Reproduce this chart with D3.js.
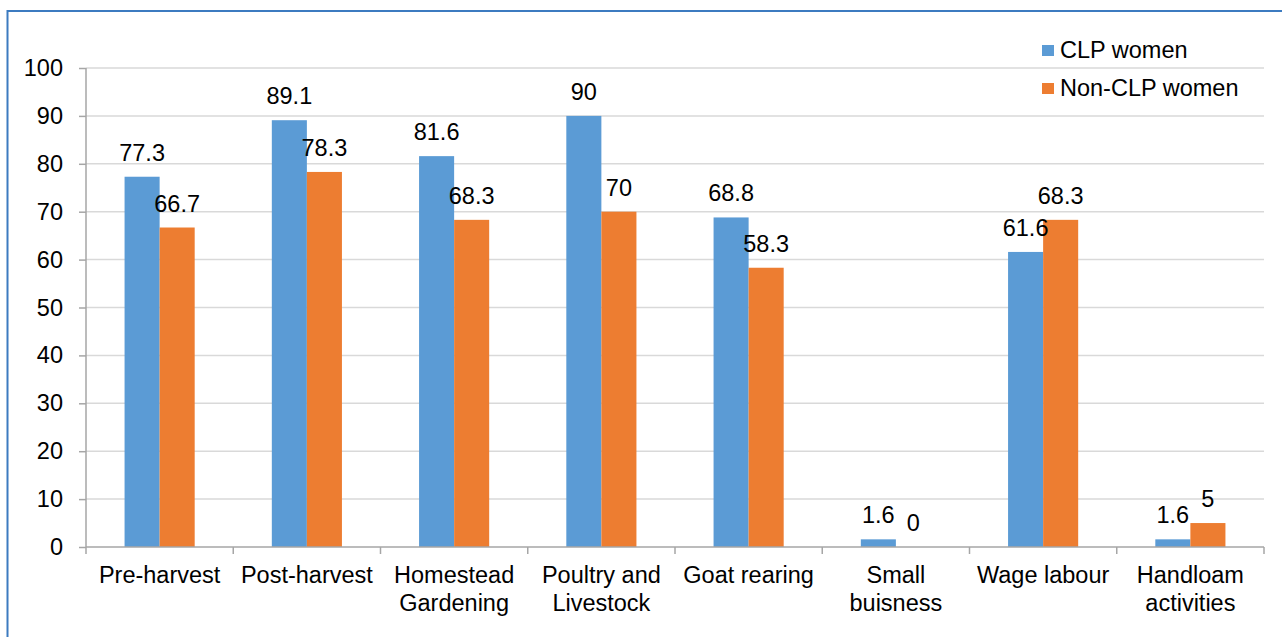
<!DOCTYPE html>
<html><head><meta charset="utf-8">
<script src="https://cdn.jsdelivr.net/npm/d3@7"></script>
<style>body{margin:0;background:#fff}svg{display:block}text{font-family:"Liberation Sans",Arial,sans-serif;fill:#000}</style>
</head><body><svg id="c" width="1282" height="637"></svg>
<script>
const categories = [["Pre-harvest"],["Post-harvest"],["Homestead","Gardening"],["Poultry and","Livestock"],["Goat rearing"],["Small","buisness"],["Wage labour"],["Handloam","activities"]];
const seriesNames = ["CLP women","Non-CLP women"];
const clpValues = [77.3, 89.1, 81.6, 90, 68.8, 1.6, 61.6, 1.6];
const nonClpValues = [66.7, 78.3, 68.3, 70, 58.3, 0, 68.3, 5];
const yTicks = [0,10,20,30,40,50,60,70,80,90,100];
const colors = ["#5B9BD5","#ED7D31"];

const svg = d3.select("#c");
const fs = 23.5;
const L = 86, R = 1264, T = 68, B = 547;
svg.append("rect").attr("x",7.5).attr("y",11).attr("width",1300).attr("height",700)
  .attr("fill","none").attr("stroke","#3C7BC0").attr("stroke-width",2);

const x = d3.scaleBand().domain(d3.range(categories.length)).range([L,R]).paddingInner(0).paddingOuter(0);
const x1 = d3.scaleBand().domain([0,1]).range([0,x.bandwidth()]).paddingInner(0).paddingOuter(1.1);
const y = d3.scaleLinear().domain([0,100]).range([B,T]);

// gridlines
svg.append("g").selectAll("line").data(yTicks.filter(d=>d>0)).join("line")
  .attr("x1",L).attr("x2",R).attr("y1",d=>y(d)).attr("y2",d=>y(d))
  .attr("stroke","#D9D9D9").attr("stroke-width",1.5);

// y axis
const ya = svg.append("g").attr("transform",`translate(${L},0)`)
  .call(d3.axisLeft(y).tickValues(yTicks).tickSize(7).tickPadding(16));
ya.select(".domain").attr("stroke","#A6A6A6").attr("stroke-width",1.5).attr("d",`M0,${T}V${B}`);
ya.selectAll(".tick line").attr("stroke","#A6A6A6").attr("stroke-width",1.5);
ya.selectAll(".tick text").attr("font-size",fs).attr("font-family","Liberation Sans, Arial").attr("fill","#000");

// bars
const data = categories.map((c,i)=>({i, vals:[clpValues[i], nonClpValues[i]]}));
const groups = svg.append("g").selectAll("g").data(data).join("g")
  .attr("transform",d=>`translate(${x(d.i)},0)`);
groups.selectAll("rect").data(d=>d.vals.map((v,k)=>({v,k}))).join("rect")
  .attr("x",d=>x1(d.k)).attr("width",x1.bandwidth())
  .attr("y",d=>y(d.v)).attr("height",d=>B-y(d.v)).attr("fill",d=>colors[d.k]);

// x axis
const xa = svg.append("g").attr("transform",`translate(0,${B})`);
xa.append("line").attr("x1",L).attr("x2",R).attr("y1",0).attr("y2",0).attr("stroke","#A6A6A6").attr("stroke-width",1.5);
xa.selectAll("line.tk").data(d3.range(categories.length+1)).join("line").attr("class","tk")
  .attr("x1",i=>L+i*x.bandwidth()).attr("x2",i=>L+i*x.bandwidth()).attr("y1",0).attr("y2",7)
  .attr("stroke","#A6A6A6").attr("stroke-width",1.5);
xa.selectAll("text").data(categories).join("text")
  .attr("text-anchor","middle").attr("font-size",fs)
  .attr("transform",(d,i)=>`translate(${x(i)+x.bandwidth()/2},36)`)
  .each(function(d){ d3.select(this).selectAll("tspan").data(d).join("tspan").attr("x",0).attr("dy",(t,j)=>j?28:0).text(t=>t); });

// data labels
groups.selectAll("text.lbl").data(d=>d.vals.map((v,k)=>({v,k}))).join("text").attr("class","lbl")
  .attr("x",d=>x1(d.k)+x1.bandwidth()/2).attr("y",d=>y(d.v)-16)
  .attr("text-anchor","middle").attr("font-size",fs).text(d=>d.v);

// legend
const lg = svg.append("g").attr("transform","translate(1042,45)");
const li = lg.selectAll("g").data(seriesNames).join("g").attr("transform",(d,i)=>`translate(0,${i*38})`);
li.append("rect").attr("width",12).attr("height",11).attr("fill",(d,i)=>colors[i]);
li.append("text").attr("x",18).attr("y",13).attr("font-size",fs).text(d=>d);
</script></body></html>
